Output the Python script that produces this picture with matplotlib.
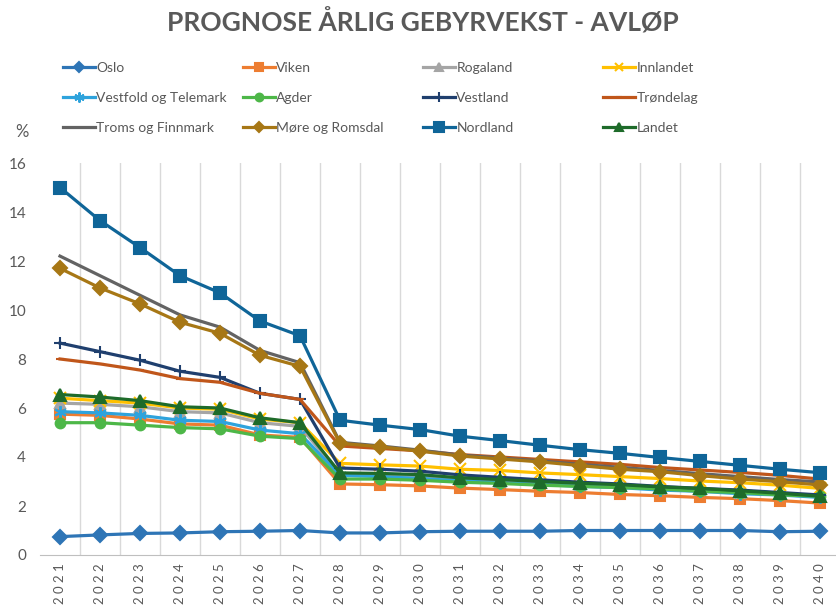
import matplotlib
matplotlib.use("Agg")
import matplotlib.pyplot as plt

plt.rcParams['font.family'] = ['Lato', 'DejaVu Sans']

years = list(range(2021, 2041))

oslo = [0.75, 0.82, 0.88, 0.9, 0.95, 0.97, 1.0, 0.9, 0.9, 0.95, 0.97, 0.97, 0.97, 1.0, 1.0, 1.0, 1.0, 1.0, 0.95, 0.97]
viken = [5.75, 5.7, 5.55, 5.35, 5.3, 4.9, 4.8, 2.9, 2.87, 2.82, 2.73, 2.67, 2.6, 2.55, 2.47, 2.42, 2.35, 2.3, 2.22, 2.12]
rogaland = [6.2, 6.15, 6.05, 5.85, 5.8, 5.4, 5.25, 3.3, 3.25, 3.2, 3.1, 3.0, 2.95, 2.85, 2.8, 2.7, 2.65, 2.55, 2.5, 2.4]
innlandet = [6.4, 6.3, 6.2, 6.0, 5.95, 5.55, 5.4, 3.74, 3.68, 3.63, 3.5, 3.45, 3.35, 3.28, 3.2, 3.12, 3.02, 2.95, 2.85, 2.72]
vestfold = [5.85, 5.8, 5.7, 5.5, 5.45, 5.1, 4.95, 3.25, 3.2, 3.12, 3.03, 2.95, 2.88, 2.8, 2.75, 2.65, 2.6, 2.5, 2.45, 2.35]
agder = [5.4, 5.4, 5.3, 5.2, 5.15, 4.85, 4.75, 3.1, 3.1, 3.05, 2.97, 2.92, 2.85, 2.8, 2.75, 2.7, 2.6, 2.55, 2.45, 2.4]
vestland = [8.65, 8.3, 7.95, 7.5, 7.25, 6.6, 6.35, 3.55, 3.5, 3.42, 3.27, 3.17, 3.07, 2.97, 2.9, 2.8, 2.72, 2.65, 2.55, 2.45]
trondelag = [8.0, 7.8, 7.55, 7.2, 7.05, 6.6, 6.35, 4.45, 4.35, 4.25, 4.1, 4.0, 3.9, 3.8, 3.7, 3.57, 3.47, 3.37, 3.25, 3.1]
troms = [12.2, 11.4, 10.6, 9.8, 9.3, 8.35, 7.85, 4.6, 4.45, 4.28, 4.08, 3.96, 3.84, 3.7, 3.58, 3.45, 3.32, 3.2, 3.08, 2.98]
more = [11.7, 10.9, 10.25, 9.5, 9.05, 8.15, 7.7, 4.56, 4.42, 4.24, 4.04, 3.92, 3.8, 3.65, 3.5, 3.4, 3.24, 3.1, 2.99, 2.86]
nordland = [15.0, 13.65, 12.55, 11.4, 10.7, 9.55, 8.95, 5.5, 5.3, 5.12, 4.85, 4.67, 4.48, 4.3, 4.15, 3.98, 3.82, 3.66, 3.5, 3.36]
landet = [6.55, 6.45, 6.3, 6.05, 6.0, 5.6, 5.4, 3.35, 3.33, 3.28, 3.15, 3.08, 3.0, 2.93, 2.87, 2.78, 2.72, 2.62, 2.52, 2.4]

series = [
    ("Oslo", oslo, "#2E75B6", "D", 7),
    ("Viken", viken, "#ED7D31", "s", 7),
    ("Rogaland", rogaland, "#A5A5A5", "^", 7),
    ("Innlandet", innlandet, "#FFC000", "x", 8),
    ("Vestfold og Telemark", vestfold, "#2EA3DC", (6, 2, 0), 9),
    ("Agder", agder, "#4DB748", "o", 7),
    ("Vestland", vestland, "#1F3F6E", "+", 9),
    ("Trøndelag", trondelag, "#C0561A", "_", 6),
    ("Troms og Finnmark", troms, "#636363", "None", 6),
    ("Møre og Romsdal", more, "#A77715", "D", 7),
    ("Nordland", nordland, "#0F6598", "s", 9),
    ("Landet", landet, "#1E6B2A", "^", 8),
]

grey = "#595959"

fig = plt.figure(figsize=(8.37, 6.07), dpi=100)
ax = fig.add_axes([40 / 837, 1 - 555 / 607, 800 / 837, (555 - 163) / 607])

x = list(range(len(years)))
handles = []
for name, vals, col, mk, ms in series:
    h, = ax.plot(x, vals, color=col, lw=2.3, marker=mk, markersize=ms,
                 markeredgewidth=1.5, markerfacecolor=col, markeredgecolor=col,
                 label=name)
    handles.append(h)

ax.set_xlim(-0.5, len(years) - 0.5)
ax.set_ylim(0, 16)
ax.set_yticks(range(0, 17, 2))
ax.set_xticks(x)
ax.set_xticklabels([" ".join(str(y)) for y in years], rotation=90, fontsize=9.5, color=grey)
ax.set_xticks([i + 0.5 for i in x], minor=True)
ax.grid(True, which='minor', axis='x', color="#D9D9D9", lw=1)
ax.tick_params(axis='y', length=0, labelsize=11, labelcolor=grey, pad=10)
ax.tick_params(axis='x', which='both', length=0, pad=6)
for s in ["top", "right", "left"]:
    ax.spines[s].set_visible(False)
ax.spines["bottom"].set_color("#BFBFBF")

fig.text(0.505, 1 - 22 / 607, "PROGNOSE ÅRLIG GEBYRVEKST - AVLØP", ha='center', va='center',
         fontsize=19, fontweight='bold', color=grey)
fig.text(22 / 837, 1 - 132 / 607, "%", ha='center', va='center', fontsize=12, color=grey)

# four fixed-position legend columns, like Excel's equal-width layout
col_x = [65, 245, 425, 605]
for c in range(4):
    hs = [handles[c], handles[c + 4], handles[c + 8]]
    leg = fig.legend(hs, [h.get_label() for h in hs], loc='upper left',
                     bbox_to_anchor=((col_x[c] - 2) / 837, 1 - 62 / 607),
                     frameon=False, fontsize=10, handlelength=2.3, handletextpad=0.1,
                     labelspacing=1.3, borderpad=0, borderaxespad=0, markerscale=0.8)
    for t in leg.get_texts():
        t.set_color(grey)

fig.savefig("out.png", dpi=100)
